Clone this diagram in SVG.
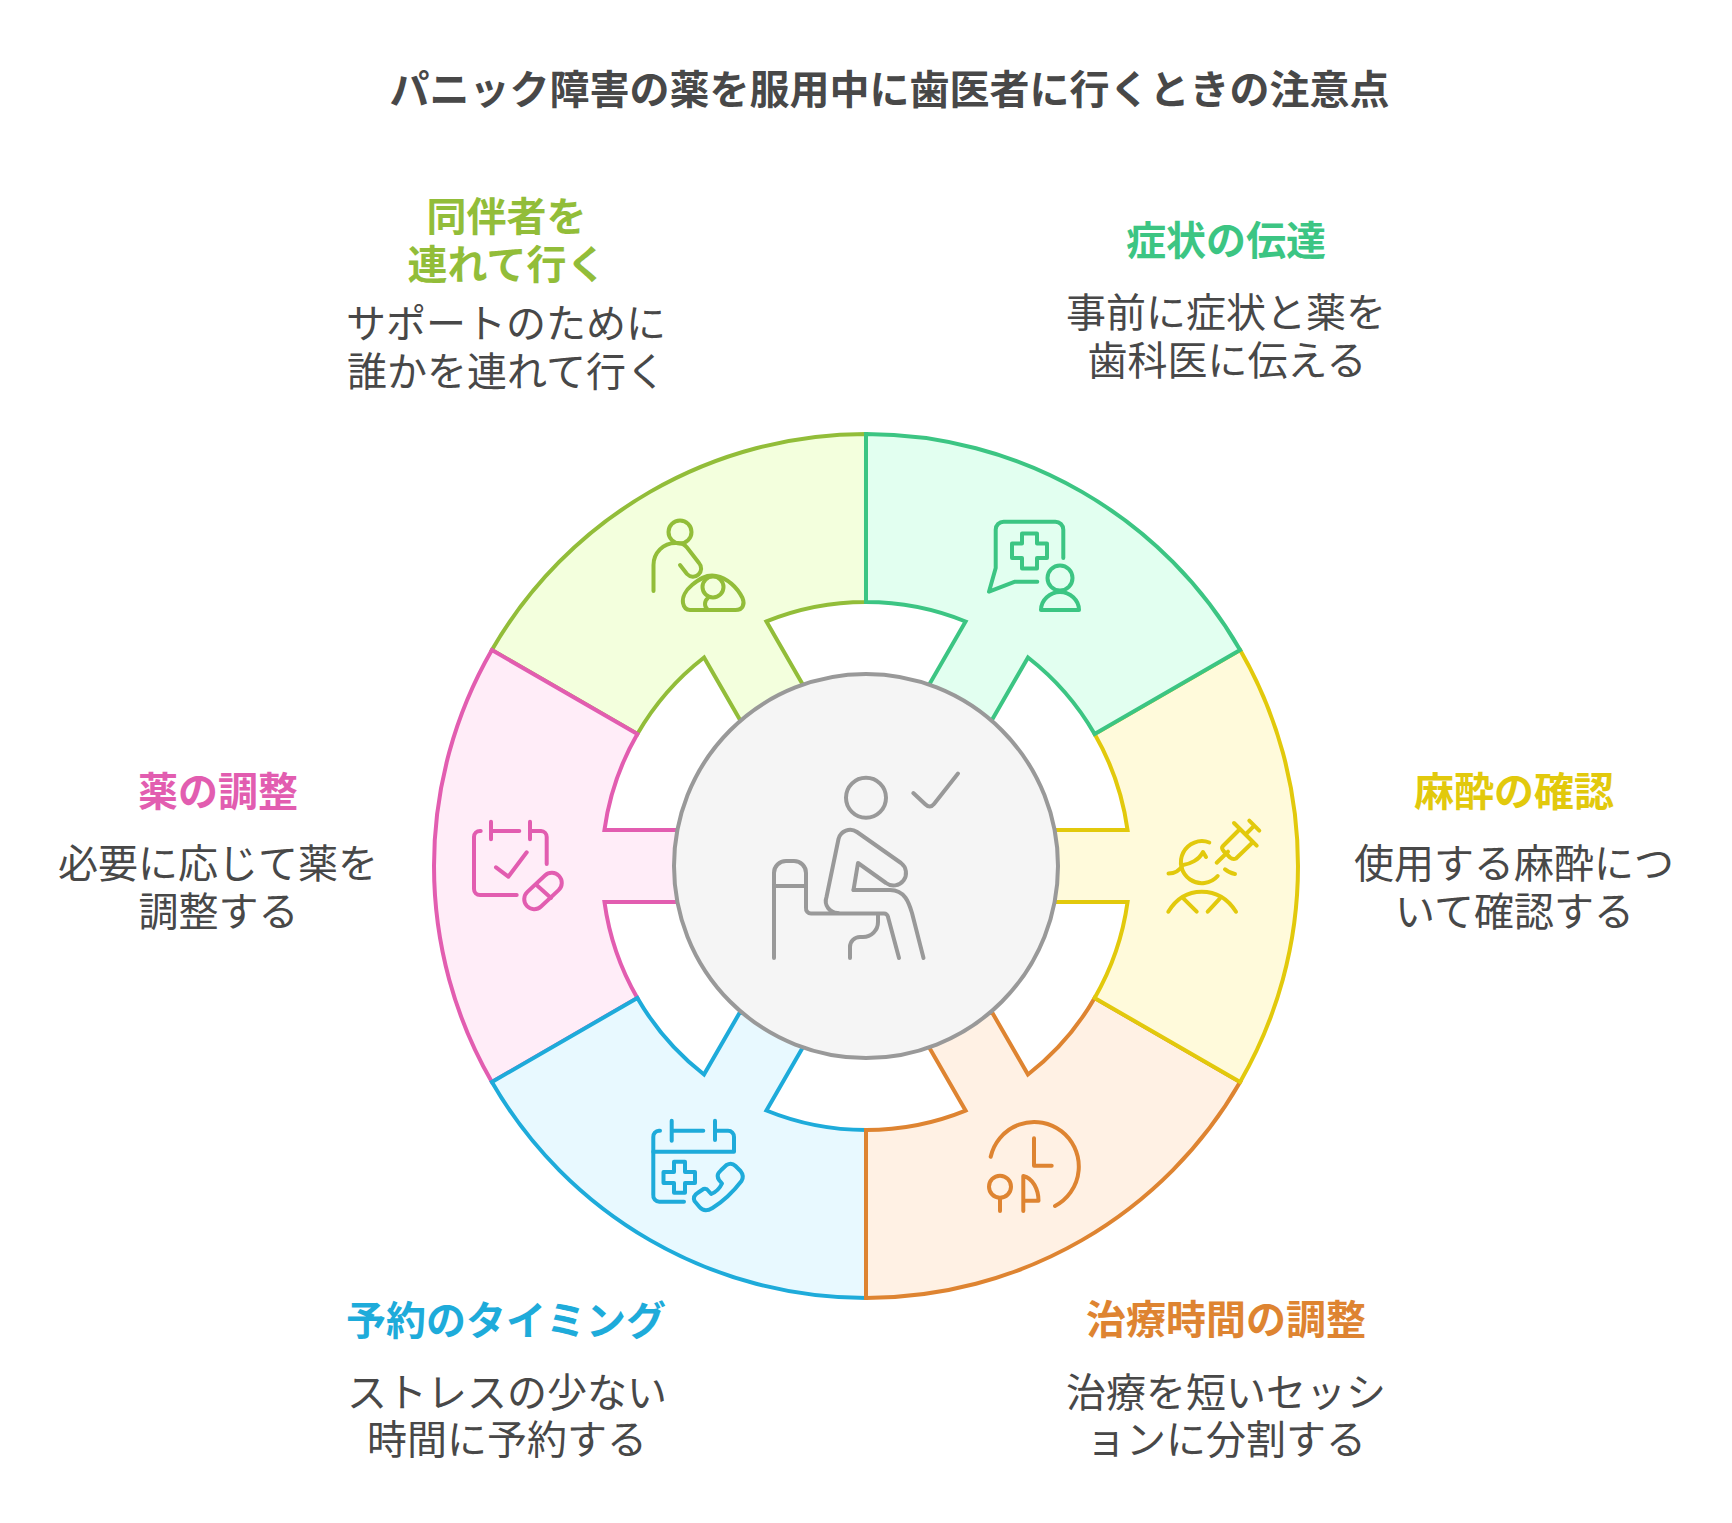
<svg xmlns="http://www.w3.org/2000/svg" xmlns:xlink="http://www.w3.org/1999/xlink" width="1732" height="1523" viewBox="0 0 1732 1523">
<style>
text{font-family:"Noto Sans CJK JP","Noto Sans",sans-serif;font-size:40px;text-anchor:middle;fill:#484848}
.h{font-weight:700}
.seg{stroke-width:4;stroke-linejoin:miter}
.ic{fill:none;stroke-width:4;stroke-linecap:round;stroke-linejoin:round}
.lime .h{fill:#92bd39}.pink .h{fill:#e25db0}.blue .h{fill:#1eabda}.orange .h{fill:#de8431}.yellow .h{fill:#e2c90c}.green .h{fill:#3cc583}
.lime .seg{fill:#f3ffdd;stroke:#92bd39}.lime .ic{stroke:#92bd39}
.pink .seg{fill:#ffedf8;stroke:#e25db0}.pink .ic{stroke:#e25db0}
.blue .seg{fill:#e8f9ff;stroke:#1eabda}.blue .ic{stroke:#1eabda}
.orange .seg{fill:#fff1e4;stroke:#de8431}.orange .ic{stroke:#de8431}
.yellow .seg{fill:#fffadb;stroke:#e2c90c}.yellow .ic{stroke:#e2c90c}
.green .seg{fill:#e2fff0;stroke:#3cc583}.green .ic{stroke:#3cc583}
.center .ic{stroke:#999}
</style>
<defs>
<path id="s" d="M866 434A432 432 0 0 1 1240.1 650L1094.6 734A264 264 0 0 0 1028 657.5L991.5 720.7L929.1 684.7L965.6 621.5A264 264 0 0 0 866 602Z"/>
</defs>
<text id="title" class="h" x="889.5" y="104">パニック障害の薬を服用中に歯医者に行くときの注意点</text>
<g id="connectors"></g>
<g id="node-lime" class="lime">
<use class="seg" href="#s" transform="rotate(300 866 866)"/>
<g class="ic">
<circle cx="680" cy="532" r="11.5"/>
<path d="M653.5 591V565A22 22 0 0 1 675.5 543H678A12 12 0 0 1 687 547.5L699 563A8 8 0 0 1 687 574L680 565"/>
<circle cx="713" cy="587" r="10.5"/>
<path d="M690 610H735.5C743 610 745 604 742.5 598C737 587 727 578 716 576C706 574 698 580 692 585C686 590 682 597 683 603C684 608 687 610 690 610Z"/>
<path d="M708 598C704 601 704 607 708 610"/>
</g>
<text class="h" x="506.5" y="231">同伴者を</text>
<text class="h" x="507" y="279">連れて行く</text>
<text x="506" y="338">サポートのために</text>
<text x="506.5" y="386">誰かを連れて行く</text>
</g>
<g id="node-pink" class="pink">
<use class="seg" href="#s" transform="rotate(240 866 866)"/>
<g class="ic">
<path d="M480.7 831H480A6 6 0 0 0 474 837V889A6 6 0 0 0 480 895H516.7"/>
<path d="M491 821.7V839.3M491 831H519.3M530 821.7V839.3M530 831H541A6 6 0 0 1 546.7 837V864"/>
<path d="M496 867.3L508.3 876.7L526.7 852.3"/>
<rect x="521" y="881" width="44" height="20" rx="10" transform="rotate(-43 543 891)"/>
<path d="M536 884.5L551 898"/>
</g>
<text class="h" x="218" y="806">薬の調整</text>
<text x="218" y="878">必要に応じて薬を</text>
<text x="218.5" y="926">調整する</text>
</g>
<g id="node-blue" class="blue">
<use class="seg" href="#s" transform="rotate(180 866 866)"/>
<g class="ic">
<path d="M660 1130.7H659A6 6 0 0 0 653.3 1137V1195A6 6 0 0 0 659.3 1201.7H684"/>
<path d="M671.7 1120.7V1140.7M671.7 1130.7H703.3M715 1120.7V1140M715 1130.7H728A6 6 0 0 1 734 1137V1151.7H653.3"/>
<path d="M674 1161.7H685V1172H695V1183H685V1192.7H674V1183H663.5V1172H674Z"/>
<path transform="translate(-1.5 0)" d="M722.7 1170L728 1165Q733 1162 737 1166L742 1171Q746 1176 743 1181Q730 1198 714 1208Q706 1213 701 1207L696 1201Q694 1196 699 1193L705 1189Q708 1188 710 1191L712.7 1194Q720 1191 723.5 1183.5L720.5 1180Q718 1176 720 1173Z"/>
</g>
<text class="h" x="506" y="1335">予約のタイミング</text>
<text x="507" y="1407">ストレスの少ない</text>
<text x="507" y="1454">時間に予約する</text>
</g>
<g id="node-orange" class="orange">
<use class="seg" href="#s" transform="rotate(120 866 866)"/>
<g class="ic">
<path d="M990.7 1156.7A44.6 44.6 0 1 1 1055 1206"/>
<path d="M1034 1138.3V1165.7H1051.7"/>
<circle cx="1000" cy="1186.7" r="11"/>
<path d="M1000 1198V1211"/>
<path d="M1023.3 1211V1176C1033 1178 1038.5 1190 1038.5 1200.7H1023.3"/>
</g>
<text class="h" x="1226" y="1334">治療時間の調整</text>
<text x="1226" y="1407">治療を短いセッシ</text>
<text x="1226" y="1454">ョンに分割する</text>
</g>
<g id="node-yellow" class="yellow">
<use class="seg" href="#s" transform="rotate(60 866 866)"/>
<g class="ic">
<path d="M1216.7 862.7L1228 851.7M1223 846L1240 829L1253 842L1236 858.5Q1233 860 1230 857.5L1223.5 851Q1221 848 1223 846ZM1234 823L1256.7 845.7M1245.5 834.5L1254.3 825.7M1249.3 820.7L1259.3 830.7M1225 869.3Q1229 873 1235 874"/>
<path d="M1209.3 842.5A21 21 0 1 0 1217.7 876"/>
<path d="M1168.5 873.5C1175 873.5 1180 870 1183 865C1190 864 1199 860 1203 852L1206 857"/>
<path d="M1168.3 911.7C1176 899 1188 891.7 1201.7 891.7C1216 891.7 1228 899 1236 911.7M1183.3 898.3L1196.7 911.7M1220 898.3L1207.7 911.7"/>
</g>
<text class="h" x="1514" y="806">麻酔の確認</text>
<text x="1514" y="878">使用する麻酔につ</text>
<text x="1514.5" y="926">いて確認する</text>
</g>
<g id="node-green" class="green">
<use class="seg" href="#s"/>
<g class="ic">
<path d="M1063.3 558V530A8 8 0 0 0 1055 521.7H1004A8 8 0 0 0 995.7 530V568L989 591.7L1015 581.7H1037.3"/>
<path d="M1022 533.5H1037V543.5H1047V558H1037V568.5H1022V558H1012V543.5H1022Z"/>
<circle cx="1060" cy="578" r="12.5"/>
<path d="M1041 610C1041 600 1050 592 1060 592C1070 592 1079 600 1079 610Z"/>
</g>
<text class="h" x="1226" y="255">症状の伝達</text>
<text x="1226" y="327">事前に症状と薬を</text>
<text x="1227" y="375">歯科医に伝える</text>
</g>
<g id="node-center" class="center">
<circle cx="866" cy="866" r="192" fill="#f5f5f5" stroke="#999" stroke-width="4"/>
<g class="ic">
<circle cx="866" cy="797.7" r="20"/>
<path d="M913.3 793L925 804Q930 809 934 804L958 773.5"/>
<path d="M853.5 890L858 863L886 883A12.5 12.5 0 0 0 901 863L857 832A12 12 0 0 0 838.5 839L826.5 897A12 12 0 0 0 838 913"/>
<path d="M853.5 890H890C905 890 909 903 912 913L923.5 958"/>
<path d="M774 958V873A12 12 0 0 1 786 861H794A12 12 0 0 1 806 873V908A5 5 0 0 0 811 913.5H884A4 4 0 0 1 888 917L899 958"/>
<path d="M774 886H804"/>
<path d="M878 914V922A15 15 0 0 1 863 937H860A10 10 0 0 0 850 947V958"/>
</g>
</g>
</svg>
